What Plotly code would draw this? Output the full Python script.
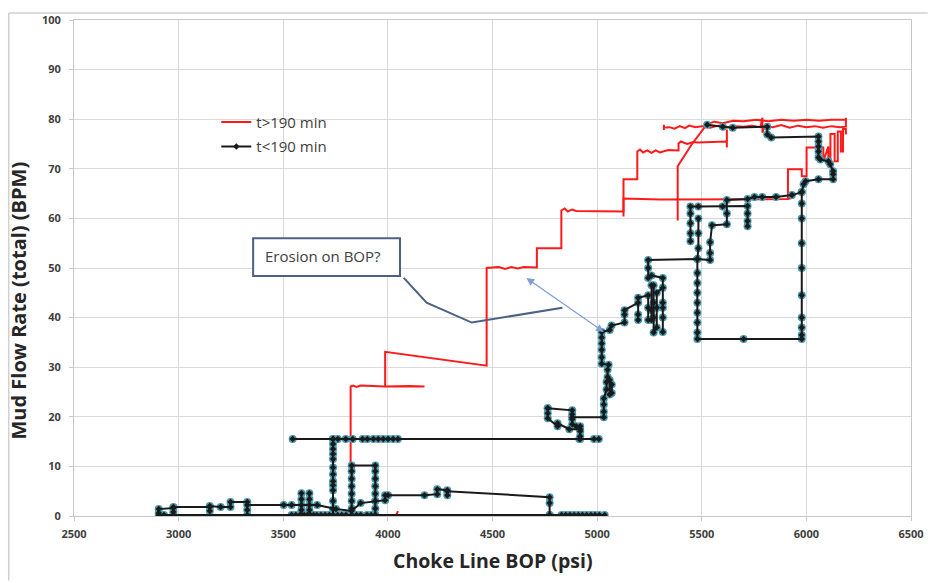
import plotly.graph_objects as go

# ---- t>190 min series (choke line BOP psi, mud flow BPM); None splits the trace into runs
red_x = [4040, 4048, None,
         3822, 3822, 3822, 3835, 3850, 3870, 3987, 4100, 4175, 3987, 3987, 4472, 4472,
         4530, 4560, 4590, 4620, 4650, 4712, 4712, 4829, 4829, 4845, 4860, 4880, 4900,
         5000, 5126, 5126, 5192, 5192, 5205, 5220, 5240, 5260, 5280, 5300, 5320, 5340,
         5389, 5389, 5400, 5430, 5460, 5479, 5620, 5620, 5620, None,
         5126, 5126, 5300, 5600, 5912, 5940, 5912, 5912, 5978, 5978, 6001, 6001, 6081,
         6081, 6105, 6105, 6115, 6115, 6135, 6135, 6150, 6150, 6165, 6165, 6175, 6175,
         6189, 6189, None,
         5385, 5385, 5450, 5516, None,
         5319, 5319, 5319, 5345, 5370, 5395, 5420, 5440, 5470, 5500, 5540, 5580, 5620,
         5660, 5700, 5740, 5780, 5790, 5790, 5800, 5840, 5880, 5920, 5960, 6000, 6040,
         6080, 6120, 6160, 6189, 6189, 6189, None,
         5526, 5560, 5600, 5650, 5700, 5760, 5820, 5880, 5940, 6000, 6060, 6120, 6189]
red_y = [0.2, 1.0, None,
         10.8, 20.0, 26.1, 26.3, 26.0, 26.3, 26.1, 26.2, 26.1, 26.1, 33.1, 30.3, 50.0,
         50.2, 49.8, 50.2, 49.9, 50.2, 50.1, 54.0, 54.0, 61.6, 62.0, 61.4, 61.8, 61.5,
         61.5, 61.4, 67.9, 67.9, 73.5, 73.9, 73.3, 73.7, 73.2, 73.7, 73.3, 73.6, 73.8,
         73.7, 75.1, 75.5, 75.0, 75.4, 75.3, 75.5, 74.3, 77.9, None,
         60.4, 64.0, 63.8, 63.9, 63.9, 64.2, 63.9, 69.9, 69.9, 68.5, 68.5, 74.3, 74.3,
         71.5, 74.5, 70.5, 70.5, 77.0, 77.0, 71.5, 71.5, 77.5, 77.5, 73.5, 73.5, 78.0,
         78.0, 76.9, None,
         59.6, 70.5, 74.8, 78.5, None,
         77.8, 78.9, 78.3, 78.4, 78.1, 78.6, 78.2, 78.7, 78.4, 78.6, 78.3, 78.7, 78.4,
         78.6, 78.5, 78.7, 78.4, 80.3, 77.3, 78.6, 78.4, 78.8, 78.3, 78.7, 78.4, 78.6,
         78.3, 78.6, 78.4, 78.5, 80.3, 79.8, None,
         79.0, 79.5, 79.2, 79.7, 79.6, 79.9, 79.6, 79.9, 79.7, 79.9, 79.7, 79.9, 79.9]

# ---- t<190 min series
black_x = [2905, 2930, 2975, 3328, 3540, 3560, 3580, 3600, 3615, 3630, 3645, 3660, 3680,
           3700, 3720, 3738, 3760, 3780, 3800, 3827, 3850, 3870, 3900, 3920, 3940, 4773,
           4830, 4850, 4870, 4890, 4910, 4930, 4950, 4970, 4990, 5010, 5036, None,
           2905, 2905, 2975, 2975, 2975, 3149, 3149, 3149, 3201, 3248, 3248, 3328, 3328,
           3328, 3502, 3540, 3587, 3625, 3662, 3752, 3827, 3870, 3940, 3987, 3987, 4001,
           4175, 4236, 4236, 4284, 4284, 4284, 4773, 4773, 4773, None,
           3587, 3587, 3587, 3587, None,
           3625, 3625, 3625, 3625, None,
           3738, 3738, 3738, 3738, 3738, 3738, 3738, 3738, 3738, 3738, 3738, 3738, 3738,
           3545, 3738, 3761, 3799, 3832, 3879, 3902, 3931, 3954, 3978, 4001, 4025, 4048,
           4915, 4985, 5008, None,
           3827, 3827, 3827, 3827, 3827, 3827, 3827, 3827, 3940, 3940, 3940, 3940, 3940,
           3940, 3940, 3940, None,
           4764, 4764, 4764, 4811, 4811, 4867, 4919, 4919, 4919, None,
           4764, 4881, 4881, 4881, 4881, 4900, 4919, 4919, None,
           4881, 5032, 5032, 5032, 5032, 5045, 5045, 5060, 5060, 5070, 5070, 5050, 5050,
           5055, 5022, 5022, 5022, 5022, 5022, 5022, 5060, 5069, 5131, 5131, 5131, 5196,
           5196, 5196, 5196, 5244, 5244, 5244, 5260, 5260, 5260, 5270, 5270, 5270, 5270,
           5285, 5285, 5285, 5314, 5314, 5314, 5314, 5314, 5314, 5260, 5244, 5244, 5244,
           5479, 5540, 5540, 5540, 5549, 5620, 5620, 5620, 5719, 5752, 5789, 5855, 5931,
           5978, 5987, 5996, 6058, 6128, 6128, 6128, 6114, 6105, 6067, 6058, 6058, 6058,
           6058, 6058, 5832, 5813, 5813, 5648, 5601, 5526, None,
           5446, 5446, 5446, 5446, 5446, 5484, 5600, 5719, 5719, 5719, 5719, None,
           5484, 5484, 5484, 5479, 5479, 5479, 5479, 5479, 5479, 5479, 5479, 5479, 5700,
           5978, 5978, 5978, 5978, 5978, 5978, 5978, 5978, 5978, 5978]
black_y = [0.2, 0.2, 0.2, 0.2, 0.2, 0.2, 0.2, 0.2, 0.2, 0.2, 0.2, 0.2, 0.2,
           0.2, 0.2, 0.2, 0.2, 0.2, 0.2, 0.2, 0.2, 0.2, 0.2, 0.2, 0.2, 0.2,
           0.2, 0.2, 0.2, 0.2, 0.2, 0.2, 0.2, 0.2, 0.2, 0.2, 0.2, None,
           0.6, 1.4, 1.6, 0.8, 1.8, 1.8, 1.0, 2.0, 1.8, 1.8, 2.8, 2.8, 1.2,
           2.2, 2.2, 2.2, 2.2, 2.2, 2.2, 1.4, 1.0, 2.6, 3.0, 3.2, 4.2, 4.2,
           4.2, 4.4, 5.4, 5.2, 4.2, 5.0, 3.8, 2.6, 0.2, None,
           0.2, 1.2, 3.4, 4.6, None,
           0.2, 1.2, 3.4, 4.6, None,
           0.2, 1.4, 3.0, 5.2, 6.2, 7.0, 8.4, 9.8, 11.5, 12.5, 13.5, 14.5, 15.5,
           15.5, 15.5, 15.5, 15.5, 15.5, 15.5, 15.5, 15.5, 15.5, 15.5, 15.5, 15.5, 15.5,
           15.5, 15.5, 15.5, None,
           0.2, 1.5, 3.0, 4.5, 6.0, 7.5, 9.0, 10.2, 10.2, 9.0, 7.5, 6.0, 4.5,
           3.0, 1.5, 0.2, None,
           21.7, 20.7, 19.7, 18.1, 18.7, 17.5, 17.5, 16.1, 15.5, None,
           21.7, 21.3, 20.5, 19.5, 18.5, 18.1, 18.1, 17.1, None,
           19.9, 19.9, 21.0, 22.5, 23.7, 25.5, 27.0, 27.4, 24.5, 24.8, 26.5, 28.0, 29.5,
           30.5, 30.7, 32.0, 33.5, 34.8, 36.0, 37.1, 37.5, 38.4, 39.0, 40.6, 41.5, 43.0,
           40.6, 39.5, 44.0, 44.5, 42.0, 39.5, 39.5, 41.5, 46.5, 46.5, 43.0, 40.0, 37.0,
           38.0, 42.0, 45.0, 46.0, 43.0, 40.0, 37.1, 42.0, 48.0, 48.5, 48.0, 50.0, 51.6,
           51.8, 51.6, 53.0, 55.2, 58.6, 58.8, 61.0, 63.7, 63.9, 64.3, 64.3, 64.3, 64.7,
           65.3, 66.9, 67.5, 67.9, 67.9, 68.9, 69.5, 70.9, 71.5, 71.9, 72.3, 73.5, 74.5,
           75.5, 76.5, 76.3, 76.9, 78.5, 78.3, 78.5, 78.9, None,
           55.4, 57.0, 59.0, 61.0, 62.4, 62.4, 62.4, 62.5, 61.0, 59.5, 58.4, None,
           60.0, 57.0, 54.0, 51.8, 49.0, 47.0, 45.0, 43.0, 41.0, 39.0, 37.0, 35.7, 35.7,
           35.7, 36.5, 38.0, 40.0, 44.5, 50.0, 55.0, 60.0, 63.0, 65.3]

x_ticks = [2500, 3000, 3500, 4000, 4500, 5000, 5500, 6000, 6500]
y_ticks = [0, 10, 20, 30, 40, 50, 60, 70, 80, 90, 100]

RED = "#ff1a1a"
BLACK = "#1a1a1a"
TEAL = "#4a98ab"
NOTE = "#4b6185"
GRID = "#d9d9d9"
TEXT = "#404040"

fig = go.Figure()

fig.add_trace(go.Scatter(
    x=red_x, y=red_y, mode="lines", name="t>190 min",
    line=dict(color=RED, width=2), legendgroup="a", connectgaps=False,
))
# teal circles sit behind the black diamonds
fig.add_trace(go.Scatter(
    x=black_x, y=black_y, mode="markers", showlegend=False, legendgroup="b",
    marker=dict(symbol="circle", size=8, color=TEAL, line=dict(width=0)),
    hoverinfo="skip",
))
fig.add_trace(go.Scatter(
    x=black_x, y=black_y, mode="lines+markers", name="t<190 min",
    line=dict(color=BLACK, width=2), legendgroup="b", connectgaps=False,
    marker=dict(symbol="diamond", size=5, color=BLACK),
))

# "Erosion on BOP?" call-out
fig.add_shape(type="rect", xref="x", yref="y", x0=3356, x1=4058, y0=48.4, y1=56.0,
              line=dict(color=NOTE, width=2), fillcolor="white", layer="above")
fig.add_annotation(x=3404, y=52.4, xref="x", yref="y", text="Erosion on BOP?",
                   showarrow=False, xanchor="left", yanchor="middle",
                   font=dict(family="Open Sans", size=15, color=TEXT))
fig.add_shape(type="path", xref="x", yref="y",
              path="M 4076,48.0 L 4185,43.0 L 4401,39.0 L 4834,42.0",
              line=dict(color=NOTE, width=2))
fig.add_annotation(x=5032, y=37.1, ax=4655, ay=48.2, xref="x", yref="y",
                   axref="x", ayref="y", text="", showarrow=True,
                   arrowside="end+start", arrowhead=2, startarrowhead=2,
                   arrowsize=1.3, startarrowsize=1.3, arrowwidth=1.2,
                   arrowcolor="#7f9fd0")

# axis titles
fig.add_annotation(x=0.5, y=-0.089, xref="paper", yref="paper",
                   text="Choke Line BOP (psi)", showarrow=False,
                   xanchor="center", yanchor="middle",
                   font=dict(family="Open Sans", size=19.5, color="#262626", weight="bold"))
fig.add_annotation(x=-0.066, y=0.434, xref="paper", yref="paper",
                   text="Mud Flow Rate (total) (BPM)", showarrow=False, textangle=-90,
                   xanchor="center", yanchor="middle",
                   font=dict(family="Open Sans", size=20, color="#262626", weight="bold"))

# thin outer frame along the top and left of the chart area
fig.add_shape(type="line", xref="paper", yref="paper", x0=-0.078, x1=1.02,
              y0=1.0139, y1=1.0139, line=dict(color="#d0d0d0", width=1.5))
fig.add_shape(type="line", xref="paper", yref="paper", x0=-0.078, x1=-0.078,
              y0=1.0139, y1=-0.13, line=dict(color="#d0d0d0", width=1.5))

axis_common = dict(
    showgrid=True, gridcolor=GRID, gridwidth=1, zeroline=False,
    showline=True, linecolor="#c8c8c8", linewidth=1, mirror=True,
    ticks="outside", ticklen=4, tickcolor="#c8c8c8",
    tickfont=dict(family="Open Sans", size=11, color=TEXT, weight="bold"),
)
fig.update_xaxes(range=[2500, 6500], tickvals=x_ticks, ticklabelstandoff=4, **axis_common)
fig.update_yaxes(range=[0, 100], tickvals=y_ticks, ticklabelstandoff=6, **axis_common)

fig.update_layout(
    width=936, height=583,
    margin=dict(l=74, r=14, t=14, b=67),
    paper_bgcolor="white", plot_bgcolor="white",
    showlegend=True,
    legend=dict(x=0.170, y=0.827, xanchor="left", yanchor="top",
                traceorder="grouped", tracegroupgap=2,
                bgcolor="rgba(0,0,0,0)",
                font=dict(family="Open Sans", size=15, color=TEXT)),
)

fig.write_html("out.html")
